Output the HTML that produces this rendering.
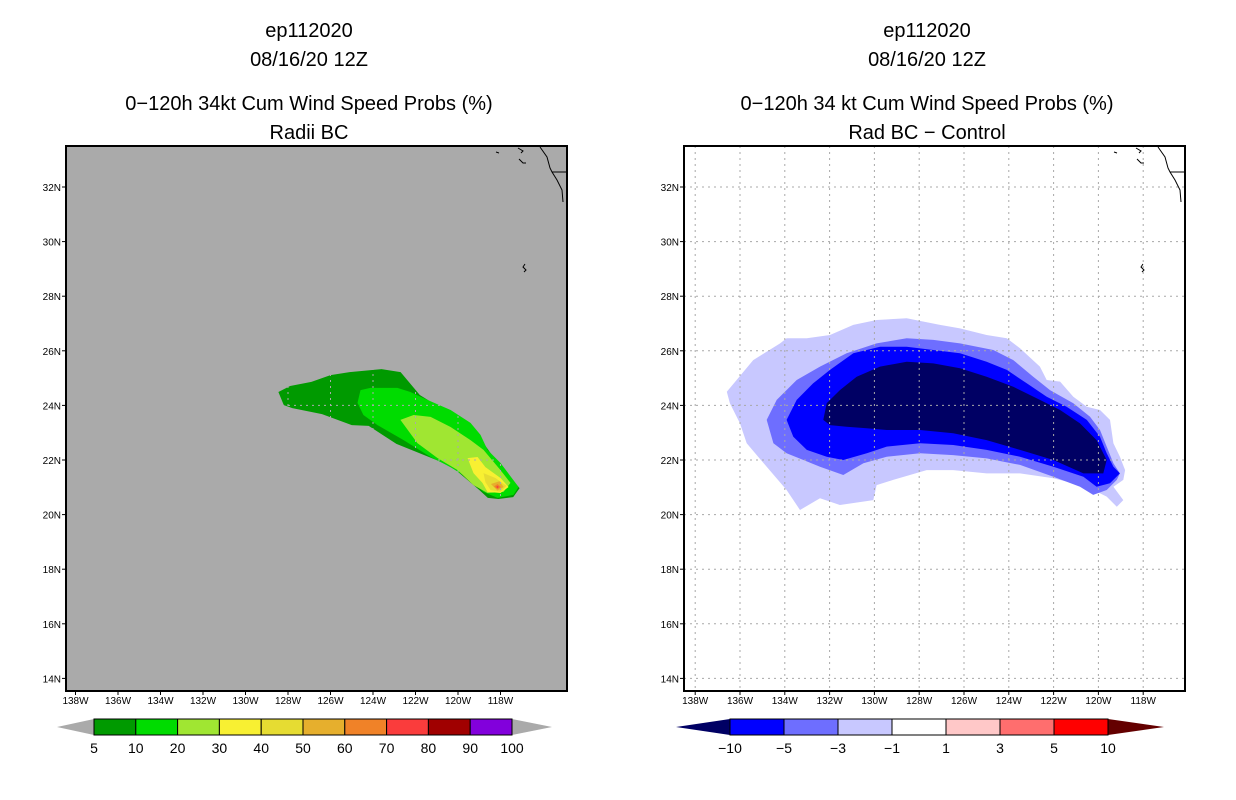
<!DOCTYPE html>
<html><head><meta charset="utf-8"><style>
body{margin:0;background:#fff;}
svg{display:block;font-family:"Liberation Sans",sans-serif;}
</style></head><body>
<svg id="s" width="1236" height="800" viewBox="0 0 1236 800">
<g font-size="20" text-anchor="middle" fill="#000">
<text x="309" y="37">ep112020</text>
<text x="309" y="66">08/16/20 12Z</text>
<text x="309" y="110">0−120h 34kt Cum Wind Speed Probs (%)</text>
<text x="309" y="139">Radii BC</text>
</g>
<g font-size="20" text-anchor="middle" fill="#000">
<text x="927" y="37">ep112020</text>
<text x="927" y="66">08/16/20 12Z</text>
<text x="927" y="110">0−120h 34 kt Cum Wind Speed Probs (%)</text>
<text x="927" y="139">Rad BC − Control</text>
</g>
<rect x="66" y="146" width="501" height="545" fill="#aaaaaa"/>
<g id="lcont"></g><g id="lgrid"></g>
<rect x="684" y="146" width="501" height="545" fill="#fff"/>
<g id="rcont"></g><g id="rgrid"></g>
<g id="coast" fill="none" stroke="#000" stroke-width="1"></g>
<rect x="66" y="146" width="501" height="545" fill="none" stroke="#000" stroke-width="2"/>
<rect x="684" y="146" width="501" height="545" fill="none" stroke="#000" stroke-width="2"/>
<g id="axes" font-size="10" fill="#000"></g>
<g id="cbars"></g>
</svg>
<script>
const NS="http://www.w3.org/2000/svg";
const lonTicks=[138,136,134,132,130,128,126,124,122,120,118];
const latTicks=[32,30,28,26,24,22,20,18,16,14];
const leftLevels=["5","10","20","30","40","50","60","70","80","90","100"];
const leftColors=["#009a00","#00dc00","#a0e632","#f8f032","#e6dc32","#e6af2d","#f08228","#fa3c3c","#a00000","#8200dc"];
const rightLevels=["−10","−5","−3","−1","1","3","5","10"];
const rightColors=["#0000ff","#6e6eff","#c8c8ff","#ffffff","#ffc8c8","#ff6e6e","#ff0000"];
// left contours: [lonW, latN] pairs
const p5=[[128.45,24.49],[128.2,24.01],[127.8,23.9],[126.4,23.68],[125.0,23.28],[124.2,23.25],[122.9,22.59],[120.8,21.93],[120.1,21.63],[119.0,20.9],[118.6,20.61],[118.1,20.57],[117.4,20.64],[117.1,20.97],[118.0,21.74],[118.9,22.73],[119.9,23.47],[121.8,24.38],[122.7,25.22],[123.6,25.33],[125.1,25.22],[126.0,25.11],[126.9,24.86],[127.9,24.71]];
const p10=[[124.73,24.09],[124.59,24.56],[124.12,24.64],[122.85,24.64],[122.24,24.49],[121.44,24.2],[120.35,23.83],[119.41,23.36],[118.94,22.92],[118.61,22.37],[118.0,21.89],[117.15,21.01],[117.39,20.72],[118.14,20.61],[118.8,20.83],[119.41,21.27],[120.35,21.74],[121.29,22.11],[122.56,22.73],[123.79,23.28],[124.45,23.65]];
const p20=[[122.71,23.47],[122.09,23.65],[121.29,23.58],[120.35,23.21],[119.41,22.73],[118.8,22.37],[118.0,21.63],[117.53,21.16],[117.86,20.83],[118.61,20.79],[119.27,21.08],[120.02,21.63],[120.96,22.07],[121.91,22.62]];
const p30=[[119.55,22.07],[119.08,22.11],[118.71,21.74],[118.0,21.34],[117.62,21.01],[118.0,20.79],[118.61,20.83],[118.85,21.16],[119.27,21.52]];
const p40=[[118.8,21.52],[118.24,21.34],[117.72,21.05],[118.0,20.83],[118.47,20.9],[118.71,21.19]];
const p50=[[118.45,21.12],[118.05,21.22],[117.85,21.01],[118.14,20.88]];
const p60=[[118.3,21.03],[118.14,21.12],[117.98,21.01],[118.14,20.93]];
const p70=[[118.2,21.01],[118.14,21.06],[118.08,21.01],[118.14,20.97]];
// right contours
const r1=[[136.59,24.5],[135.41,25.66],[134.21,26.27],[133.92,26.46],[133.02,26.46],[131.98,26.58],[130.94,26.95],[129.9,27.13],[128.56,27.19],[127.07,26.95],[126.18,26.82],[124.99,26.58],[124.09,26.46],[123.5,26.09],[122.61,25.42],[122.31,24.93],[121.71,24.87],[121.12,24.32],[120.52,23.95],[119.93,23.83],[119.48,23.47],[119.33,22.61],[119.04,22.12],[118.81,21.63],[118.89,21.27],[119.33,21.02],[118.89,20.53],[119.18,20.29],[119.63,20.66],[120.52,21.02],[122.01,21.33],[123.5,21.51],[124.99,21.51],[126.48,21.63],[127.67,21.63],[129.16,21.27],[129.9,21.08],[130.05,20.53],[131.54,20.35],[132.43,20.6],[133.32,20.17],[133.92,20.9],[134.81,21.75],[135.7,22.61],[136.0,23.34],[136.45,24.08]];
const r3=[[134.81,23.47],[134.36,24.2],[133.47,24.93],[132.43,25.42],[131.24,25.91],[129.9,26.27],[128.56,26.46],[127.37,26.4],[126.18,26.27],[124.69,26.03],[123.8,25.66],[122.91,25.05],[122.16,24.56],[121.12,24.08],[120.38,23.59],[119.93,23.1],[119.63,22.49],[119.33,21.88],[119.04,21.51],[119.18,21.27],[119.63,20.9],[120.23,20.72],[120.82,21.02],[122.01,21.39],[123.5,21.82],[124.99,22.06],[126.48,22.18],[127.96,22.25],[129.45,22.12],[130.49,21.88],[131.39,21.45],[132.43,21.75],[133.17,22.0],[133.92,22.25],[134.51,22.61]];
const r5=[[133.92,23.47],[133.47,24.2],[132.73,24.81],[131.98,25.3],[130.94,25.91],[129.75,26.15],[128.56,26.15],[127.37,26.03],[126.18,25.91],[124.99,25.6],[124.09,25.3],[123.2,24.81],[122.31,24.32],[121.42,23.95],[120.52,23.47],[119.93,22.85],[119.63,22.25],[119.33,21.75],[119.04,21.51],[119.48,21.15],[120.08,21.02],[120.67,21.39],[122.01,21.75],[123.5,22.12],[124.99,22.37],[126.48,22.55],[127.96,22.61],[129.45,22.49],[130.34,22.25],[131.39,22.0],[132.13,22.12],[133.02,22.37],[133.62,22.85]];
const r10=[[132.28,23.47],[132.13,24.08],[131.54,24.56],[130.79,25.05],[129.75,25.42],[128.56,25.6],[127.37,25.54],[126.18,25.36],[124.99,25.05],[123.8,24.68],[122.61,24.2],[121.71,23.83],[120.82,23.34],[120.08,22.73],[119.63,22.0],[119.78,21.51],[120.67,21.51],[122.01,22.0],[123.5,22.37],[124.99,22.73],[126.48,22.98],[127.96,23.1],[129.45,23.1],[130.34,23.16],[131.24,23.22],[131.98,23.28]];

function xL(w){return 118+(136-w)*21.25;}
function xR(w){return 740+(136-w)*22.4;}
function yM(lat){return 187+(32-lat)*27.3;}
function mk(tag,attrs,parent){const e=document.createElementNS(NS,tag);for(const k in attrs)e.setAttribute(k,attrs[k]);parent.appendChild(e);return e;}
function poly(pts,xf,fill,parent,name){
  const e=mk('polygon',{points:pts.map(p=>xf(p[0]).toFixed(1)+','+yM(p[1]).toFixed(1)).join(' '),fill:fill},parent);
  
  
}
const lc=document.getElementById('lcont');
poly(p5,xL,leftColors[0],lc,'contour-5pct');
poly(p10,xL,leftColors[1],lc,'contour-10pct');
poly(p20,xL,leftColors[2],lc,'contour-20pct');
poly(p30,xL,leftColors[3],lc,'contour-30pct');
poly(p40,xL,leftColors[4],lc,'contour-40pct');
poly(p50,xL,leftColors[5],lc,'contour-50pct');
poly(p60,xL,leftColors[6],lc,'contour-60pct');
poly(p70,xL,leftColors[7],lc,'contour-70pct');
const rc=document.getElementById('rcont');
poly(r1,xR,"#c8c8ff",rc,'contour-minus-1');
poly(r3,xR,"#6e6eff",rc,'contour-minus-3');
poly(r5,xR,"#0000ff",rc,'contour-minus-5');
poly(r10,xR,"#000064",rc,'contour-minus-10');
// grids
const lg=document.getElementById('lgrid'),rg=document.getElementById('rgrid');
function grid(g,xf,x0,x1,col){
  lonTicks.forEach(w=>{const x=xf(w);if(x>x0&&x<x1){const l=mk('line',{x1:x,x2:x,y1:146,y2:691,stroke:col,'stroke-dasharray':'2,4'},g);}});
  latTicks.forEach(la=>{const y=yM(la);const l=mk('line',{x1:x0,x2:x1,y1:y,y2:y,stroke:col,'stroke-dasharray':'2,4'},g);});
}
grid(lg,xL,66,567,"#aaaaaa");
grid(rg,xR,684,1185,"#a8a8a8");
// axes
const ax=document.getElementById('axes');
function axes(xf,bx,bx1){
  lonTicks.forEach(w=>{const x=xf(w);
    if(x>bx&&x<bx1){mk('line',{x1:x,x2:x,y1:691,y2:695,stroke:'#000'},ax);}
    const t=mk('text',{x:x,y:704,'text-anchor':'middle'},ax);t.textContent=w+'W';
    });
  latTicks.forEach(la=>{const y=yM(la);
    mk('line',{x1:bx-4,x2:bx,y1:y,y2:y,stroke:'#000'},ax);
    const t=mk('text',{x:bx-5,y:y+4,'text-anchor':'end'},ax);t.textContent=la+'N';
    });
}
axes(xL,66,567);axes(xR,684,1185);
// coastlines (decorative)
const cg=document.getElementById('coast');
[0,618].forEach(o=>{
  mk('polyline',{points:[[540,147],[547,157],[550,168],[552,172],[557,180],[562,190],[563,202]].map(p=>(p[0]+o)+','+p[1]).join(' ')},cg);
  mk('line',{x1:552+o,y1:172,x2:566+o,y2:172},cg);
  mk('polyline',{points:[[518,148],[523,151],[521,153]].map(p=>(p[0]+o)+','+p[1]).join(' ')},cg);
  mk('polyline',{points:[[519,159],[523,163],[526,163]].map(p=>(p[0]+o)+','+p[1]).join(' ')},cg);
  mk('polyline',{points:[[496,152],[499,153]].map(p=>(p[0]+o)+','+p[1]).join(' ')},cg);
  mk('polyline',{points:[[525,264],[523,267],[526,270],[524,272]].map(p=>(p[0]+o)+','+p[1]).join(' ')},cg);
});
// colorbars
const cb=document.getElementById('cbars');
function cbar(x0,x1,levels,colors,lt,rt,ltc,rtc,name){
  const g=mk('g',{},cb);
  const y0=719,y1=735,ym=727,w=(x1-x0)/colors.length;
  mk('polygon',{points:`${lt},${ym} ${x0},${y0} ${x0},${y1}`,fill:ltc},g);
  mk('polygon',{points:`${rt},${ym} ${x1},${y0} ${x1},${y1}`,fill:rtc},g);
  colors.forEach((c,i)=>{const r=mk('rect',{x:x0+i*w,y:y0,width:w,height:y1-y0,fill:c,stroke:'#000','stroke-width':1},g);
    });
  levels.forEach((l,i)=>{const t=mk('text',{x:x0+i*w,y:753,'text-anchor':'middle','font-size':14},g);t.textContent=l;
    });
}
cbar(94,512,leftLevels,leftColors,57,552,'#aaaaaa','#aaaaaa','left-colorbar');
cbar(730,1108,rightLevels,rightColors,676,1164,'#000064','#640000','right-colorbar');
</script>
</body></html>
